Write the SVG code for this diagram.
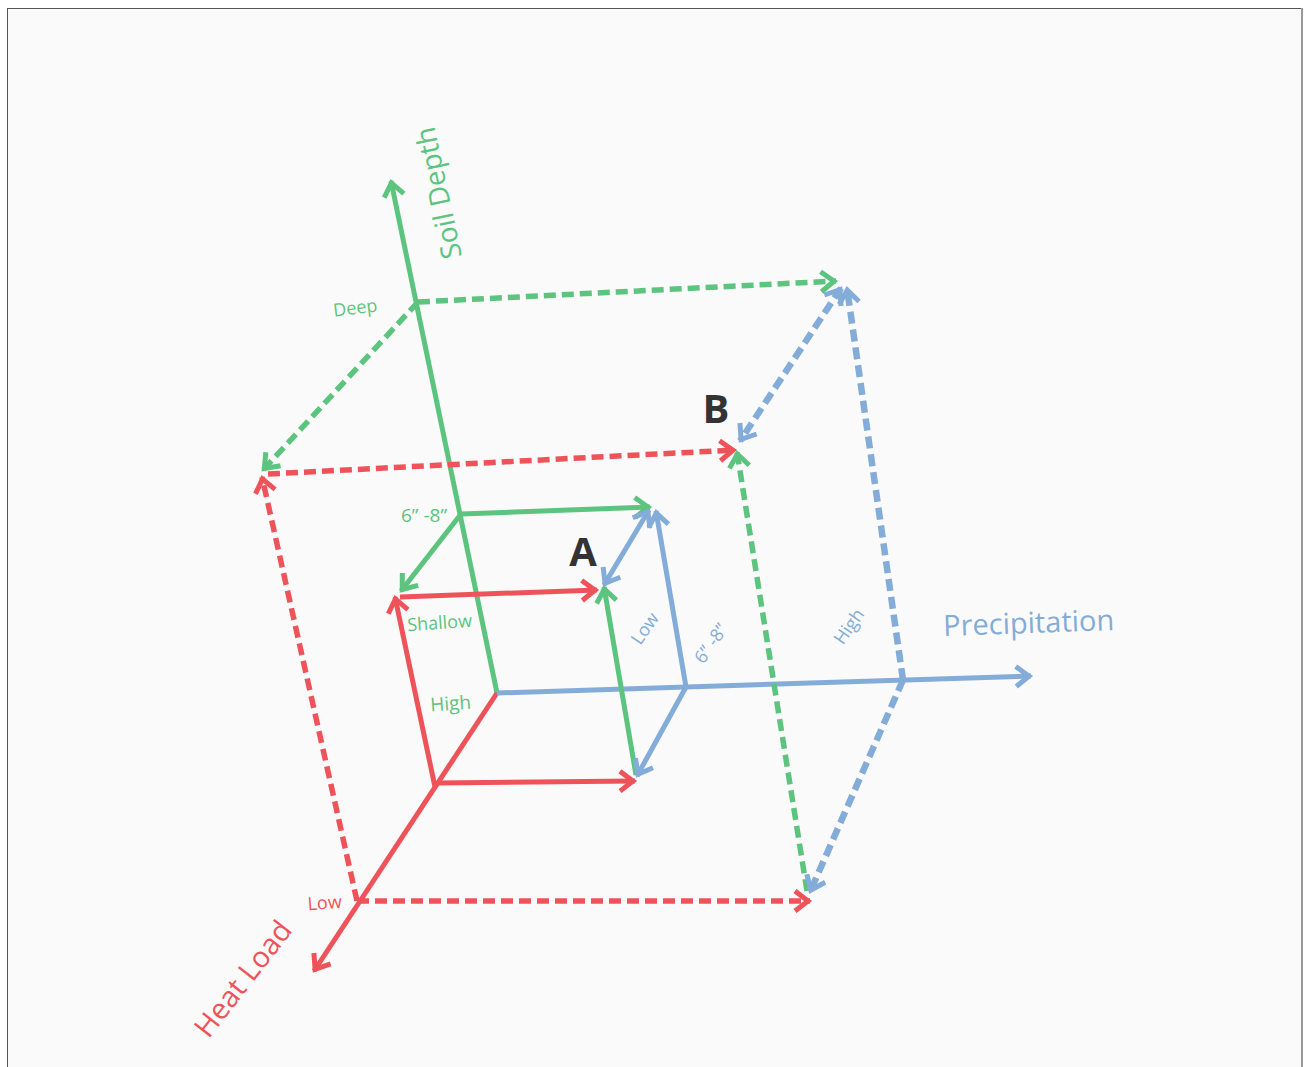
<svg xmlns="http://www.w3.org/2000/svg" width="1304" height="1067" viewBox="0 0 1304 1067">
<style>
.g{stroke:#5cc47e}.r{stroke:#ef535a}.b{stroke:#83acd8}
.s{fill:none;stroke-width:5;stroke-linecap:butt}
.d{fill:none;stroke-width:5.5;stroke-dasharray:12 6}
.db{stroke-width:6.5}
.t{font-family:"Open Sans","Noto Sans",sans-serif;text-anchor:middle}
.tg{fill:#5cc47e}.tr{fill:#ef535a}.tb{fill:#83acd8}
.big{font-family:"Open Sans","Noto Sans",sans-serif;font-weight:bold;font-size:40px;fill:#333;text-anchor:middle}
</style>
<defs>
<marker id="ag" markerUnits="userSpaceOnUse" markerWidth="44" markerHeight="44" refX="0" refY="0" viewBox="-22 -22 44 44" orient="auto-start-reverse"><path d="M-15,-10 L-2,0 L-15,10" fill="none" stroke="#5cc47e" stroke-width="5" stroke-linejoin="miter"/></marker>
<marker id="ar" markerUnits="userSpaceOnUse" markerWidth="44" markerHeight="44" refX="0" refY="0" viewBox="-22 -22 44 44" orient="auto-start-reverse"><path d="M-15,-10 L-2,0 L-15,10" fill="none" stroke="#ef535a" stroke-width="5" stroke-linejoin="miter"/></marker>
<marker id="ab" markerUnits="userSpaceOnUse" markerWidth="44" markerHeight="44" refX="0" refY="0" viewBox="-22 -22 44 44" orient="auto-start-reverse"><path d="M-15,-10 L-2,0 L-15,10" fill="none" stroke="#83acd8" stroke-width="5" stroke-linejoin="miter"/></marker>
</defs>
<rect x="0" y="0" width="1304" height="1067" fill="#ffffff"/>
<rect x="7.5" y="8.5" width="1294" height="1070" fill="#fafafa" stroke="#555" stroke-width="1"/>
<line x1="1302" y1="8" x2="1302" y2="1067" stroke="#999" stroke-width="2"/>

<g id="connectors">
  <line class="s g" x1="497" y1="693" x2="391" y2="181" marker-end="url(#ag)"/>
  <line class="s r" x1="497" y1="693" x2="314" y2="971" marker-end="url(#ar)"/>
  <line class="s b" x1="497" y1="693" x2="1031" y2="676" marker-end="url(#ab)"/>
  <line class="s g" x1="461" y1="514" x2="650" y2="507" marker-end="url(#ag)"/>
  <line class="s g" x1="461" y1="514" x2="401" y2="591" marker-end="url(#ag)"/>
  <line class="s r" x1="435" y1="787" x2="395" y2="597" marker-end="url(#ar)"/>
  <line class="s r" x1="400" y1="597" x2="597" y2="590" marker-end="url(#ar)"/>
  <line class="s r" x1="437" y1="783" x2="635" y2="781" marker-end="url(#ar)"/>
  <line class="s g" x1="636" y1="775" x2="604" y2="587" marker-end="url(#ag)"/>
  <line class="s b" x1="686" y1="687" x2="656" y2="511" marker-end="url(#ab)"/>
  <line class="s b" x1="686" y1="687" x2="637" y2="776" marker-end="url(#ab)"/>
  <line class="s b" x1="649" y1="510" x2="604" y2="585" marker-start="url(#ab)" marker-end="url(#ab)"/>
  <line class="d g" x1="418" y1="302" x2="836" y2="281" marker-end="url(#ag)"/>
  <line class="d g" x1="418" y1="302" x2="263" y2="470" marker-end="url(#ag)"/>
  <line class="d r" x1="357" y1="901" x2="262" y2="477" marker-end="url(#ar)"/>
  <line class="d r" x1="268" y1="474" x2="735" y2="450" marker-end="url(#ar)"/>
  <line class="d r" x1="357" y1="901" x2="810" y2="901" marker-end="url(#ar)"/>
  <line class="d g" x1="807" y1="891" x2="737" y2="452" marker-end="url(#ag)"/>
  <line class="d db b" x1="903" y1="680" x2="847" y2="288" marker-end="url(#ab)"/>
  <line class="d db b" x1="903" y1="680" x2="810" y2="892" marker-end="url(#ab)"/>
  <line class="d db b" x1="841" y1="288" x2="740" y2="441" marker-start="url(#ab)" marker-end="url(#ab)"/>
</g>

<g id="soil-depth"><text class="t tg" font-size="28" transform="translate(448,191) rotate(-102)">Soil Depth</text></g>
<g id="heat-load"><text class="t tr" font-size="29" transform="translate(251,985) rotate(-52)">Heat Load</text></g>
<g id="precipitation"><text class="t tb" font-size="29" transform="translate(1029,633) rotate(-2)">Precipitation</text></g>
<g id="deep"><text class="t tg" font-size="18" transform="translate(356,314) rotate(-7)">Deep</text></g>
<g id="green-68"><text class="t tg" font-size="19" x="424" y="522">6” -8”</text></g>
<g id="shallow"><text class="t tg" font-size="18" transform="translate(440,629) rotate(-4)">Shallow</text></g>
<g id="green-high"><text class="t tg" font-size="19" transform="translate(451,710) rotate(-4)">High</text></g>
<g id="red-low"><text class="t tr" font-size="18" transform="translate(325,909) rotate(-4)">Low</text></g>
<g id="blue-low"><text class="t tb" font-size="18" transform="translate(650,632) rotate(-55)">Low</text></g>
<g id="blue-68"><text class="t tb" font-size="18" transform="translate(716,647) rotate(-55)">6” -8”</text></g>
<g id="blue-high"><text class="t tb" font-size="18" transform="translate(854,630) rotate(-55)">High</text></g>
<g id="point-a"><text class="big" x="583" y="566">A</text></g>
<g id="point-b"><text class="big" x="716" y="423">B</text></g>
</svg>
